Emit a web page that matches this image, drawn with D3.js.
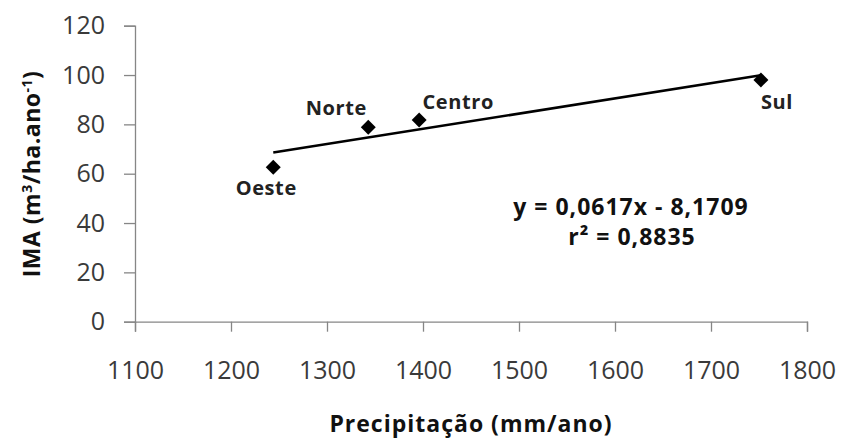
<!DOCTYPE html>
<html>
<head>
<meta charset="utf-8">
<script src="https://cdn.jsdelivr.net/npm/d3@7"></script>
<style>
  body { margin: 0; background: #fff; }
  text { font-family: "Open Sans", sans-serif; }
</style>
</head>
<body>
<div id="chart"></div>
<script>
//data
var regions = ["Oeste", "Norte", "Centro", "Sul"];
var precip = [1244, 1343, 1396, 1752];
var ima = [62.6, 78.8, 81.8, 98.0];
var xTicks = [1100, 1200, 1300, 1400, 1500, 1600, 1700, 1800];
var yTicks = [0, 20, 40, 60, 80, 100, 120];
var slope = 0.0617, intercept = -8.1709;
var equationText = ["y = 0,0617x - 8,1709", "r² = 0,8835"];

//svg dimensions
var svgWidth = 844;
var svgHeight = 439;

var svg = d3.select("#chart")
    .append("svg")
    .attr("width", svgWidth)
    .attr("height", svgHeight);

//scales
var x = d3.scaleLinear().domain([1100, 1800]).range([135, 807]);
var y = d3.scaleLinear().domain([0, 120]).range([321.7, 25.7]);

var axisColor = "#868686";

//y axis
var yAxis = svg.append("g")
    .attr("transform", `translate(${x(1100)},0)`)
    .call(d3.axisLeft(y).tickValues(yTicks).tickFormat(d3.format("d")).tickSize(11).tickPadding(19));

//x axis
var xAxis = svg.append("g")
    .attr("transform", `translate(0,${y(0)})`)
    .call(d3.axisBottom(x).tickValues(xTicks).tickFormat(d3.format("d")).tickSize(10).tickPadding(30));

[xAxis, yAxis].forEach(function(g) {
    g.select(".domain").attr("stroke", axisColor).attr("stroke-width", 1.3);
    g.selectAll(".tick line").attr("stroke", axisColor).attr("stroke-width", 1.3);
    g.selectAll(".tick text")
        .attr("fill", "#3a3a3a")
        .style("font-size", "25px");
});

//trend line from the regression equation
var xr = d3.extent(precip);
svg.append("line")
    .attr("x1", x(xr[0]))
    .attr("y1", y(slope * xr[0] + intercept))
    .attr("x2", x(xr[1]))
    .attr("y2", y(slope * xr[1] + intercept))
    .attr("stroke", "#000")
    .attr("stroke-width", 2.6);

//diamond markers
var points = regions.map(function(r, i) { return {name: r, px: precip[i], v: ima[i]}; });
svg.selectAll("path.pt")
    .data(points)
    .enter()
    .append("path")
    .attr("class", "pt")
    .attr("d", d3.symbol().type(d3.symbolSquare).size(112))
    .attr("transform", d => `translate(${x(d.px)},${y(d.v)}) rotate(45)`)
    .attr("fill", "#000");

//point labels (offsets relative to each marker)
var labelOffset = {
    Oeste: [-7, 28],
    Norte: [-32, -12],
    Centro: [39, -11],
    Sul: [16, 29]
};
svg.selectAll("text.lbl")
    .data(points)
    .enter()
    .append("text")
    .attr("class", "lbl")
    .attr("x", d => x(d.px) + labelOffset[d.name][0])
    .attr("y", d => y(d.v) + labelOffset[d.name][1])
    .attr("text-anchor", "middle")
    .style("font-size", "20px")
    .style("letter-spacing", "0.6px")
    .style("font-weight", "bold")
    .attr("fill", "#222")
    .text(d => d.name);

//equation
var eq = svg.append("text")
    .attr("text-anchor", "middle")
    .style("font-size", "23px")
    .style("letter-spacing", "1px")
    .style("font-weight", "bold")
    .attr("fill", "#111");
eq.append("tspan").attr("x", 631).attr("y", 215).text(equationText[0]);
eq.append("tspan").attr("x", 632).attr("y", 245).text(equationText[1]);

//x axis title
svg.append("text")
    .attr("x", 471)
    .attr("y", 432)
    .attr("text-anchor", "middle")
    .style("font-size", "23px")
    .style("letter-spacing", "1px")
    .style("font-weight", "bold")
    .attr("fill", "#111")
    .text("Precipitação (mm/ano)");

//y axis title
var yt = svg.append("text")
    .attr("transform", "translate(40,174) rotate(-90)")
    .attr("text-anchor", "middle")
    .style("font-size", "23px")
    .style("letter-spacing", "0.5px")
    .style("font-weight", "bold")
    .attr("fill", "#111");
yt.append("tspan").text("IMA (m");
yt.append("tspan").attr("dy", -8).style("font-size", "14px").text("3");
yt.append("tspan").attr("dy", 8).text("/ha.ano");
yt.append("tspan").attr("dy", -8).style("font-size", "14px").text("-1");
yt.append("tspan").attr("dy", 8).text(")");
</script>
</body>
</html>
